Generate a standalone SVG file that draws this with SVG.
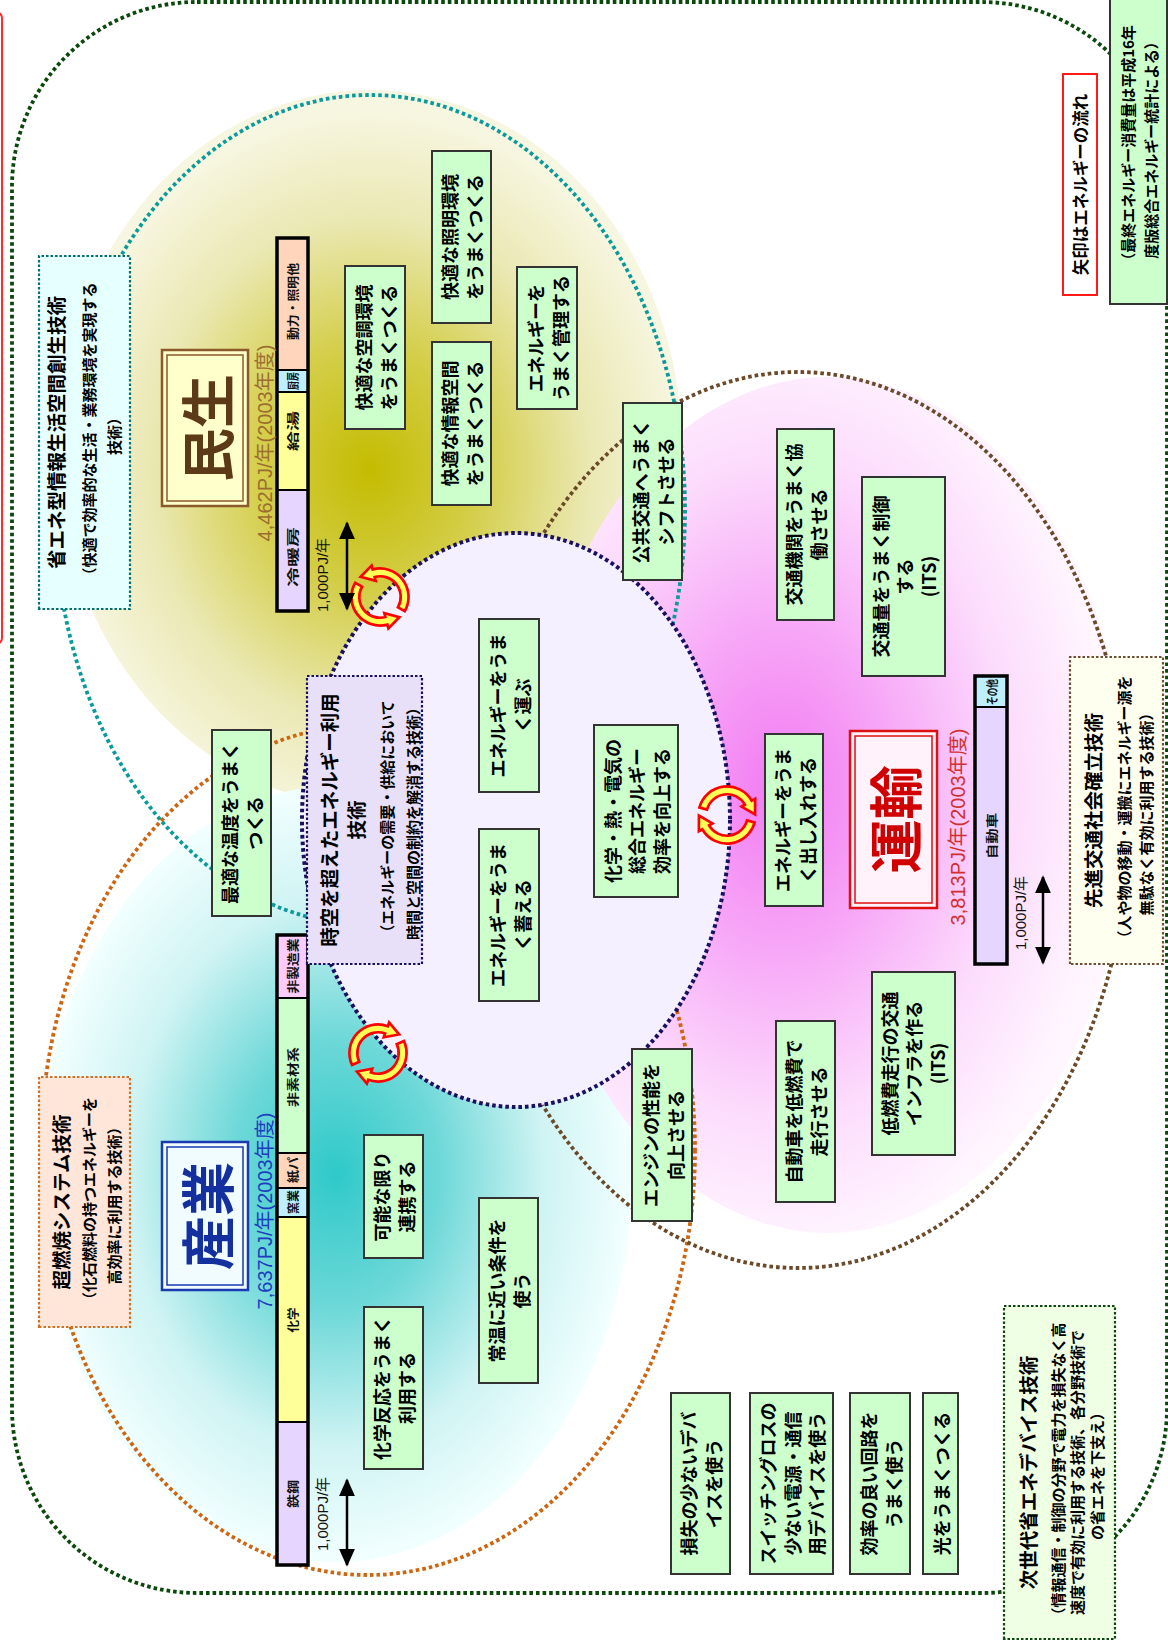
<svg xmlns="http://www.w3.org/2000/svg" width="1168" height="1641" viewBox="0 0 1168 1641">
<defs>
<style>
text{text-anchor:middle;dominant-baseline:central}
tspan{dominant-baseline:central}
.jp{font-family:"Noto Sans CJK JP","Noto Sans",sans-serif;font-weight:700}
.b18{font-size:18px}
.ttl{font-size:19.5px}
.sub{font-size:15px}
.gb{fill:#CCFFCC;stroke:#333;stroke-width:2}
.dot{fill:none;stroke-width:3.8;stroke-dasharray:3.6 3}
.cb{stroke-width:2.2;stroke-dasharray:2.5 2}
.bl{font-family:"Noto Sans CJK JP",sans-serif;font-weight:700;font-size:12px;fill:#111}
.stat{font-family:"Liberation Sans","Noto Sans CJK JP",sans-serif;font-size:20px}
.sc{font-family:"Liberation Sans","Noto Sans CJK JP",sans-serif;font-size:15px;fill:#111}
.carc{fill:#FFFF55;stroke:#FF0000;stroke-width:2.4}
</style>
<radialGradient id="gMinsei" cx="0.5" cy="0.53" r="0.5">
<stop offset="0" stop-color="#C4BC00"/>
<stop offset="0.35" stop-color="#D4CE4A"/>
<stop offset="0.7" stop-color="#EAE8B2"/>
<stop offset="1" stop-color="#F7F6E0"/>
</radialGradient>
<radialGradient id="gSangyo" cx="0.5" cy="0.5" r="0.5">
<stop offset="0" stop-color="#2FC9C9"/>
<stop offset="0.35" stop-color="#6ED8D8"/>
<stop offset="0.7" stop-color="#CFF3F3"/>
<stop offset="1" stop-color="#F2FFFF"/>
</radialGradient>
<radialGradient id="gUnyu" cx="0.42" cy="0.48" r="0.55">
<stop offset="0" stop-color="#F27AF2"/>
<stop offset="0.35" stop-color="#F7A8F7"/>
<stop offset="0.7" stop-color="#FCDCFC"/>
<stop offset="1" stop-color="#FFF6FF"/>
</radialGradient>
<marker id="ah" viewBox="0 0 10 10" refX="9" refY="5" markerWidth="18" markerHeight="16" markerUnits="userSpaceOnUse" orient="auto-start-reverse" preserveAspectRatio="none">
<path d="M0 0L10 5L0 10Z" fill="#000"/>
</marker>
<path id="carc" d="M -24.63 -6.60 A 25.5 25.5 0 0 1 22.08 -12.75 L 25.11 -14.5 L 25.05 -0.6 L 12.99 -7.5 L 16.02 -9.25 A 18.5 18.5 0 0 0 -17.87 -4.79 Z"/>
</defs>

<rect width="1168" height="1641" fill="#FFFFFF"/>

<g id="frame">
<rect x="-30" y="12" width="32" height="632" rx="6" fill="none" stroke="#FF2A2A" stroke-width="2"/>
<rect x="12" y="2" width="1155" height="1591" rx="185" fill="#FFFF99" stroke="#0B480B" class="dot"/>
</g>

<g id="regions">
<ellipse cx="370" cy="448" rx="312" ry="358" fill="url(#gMinsei)"/>
<ellipse cx="336" cy="1174" rx="296" ry="388" fill="url(#gSangyo)"/>
<ellipse cx="828" cy="805" rx="300" ry="428" fill="url(#gUnyu)"/>
<ellipse cx="370" cy="510" rx="315" ry="415" class="dot" stroke="#0A9A9A"/>
<ellipse cx="368" cy="1150" rx="327" ry="425" class="dot" stroke="#CC6611"/>
<ellipse cx="798" cy="820" rx="331" ry="448" class="dot" stroke="#6B4A2A"/>
<ellipse cx="516" cy="820" rx="214" ry="287" fill="#F4F0FF" stroke="#1A1060" stroke-width="4" stroke-dasharray="3.6 3"/>
</g>

<g id="connectors">
<g transform="translate(380,597) rotate(-135) scale(1.12,-1.12)"><use href="#carc" class="carc"/><use href="#carc" class="carc" transform="rotate(180)"/></g>
<g transform="translate(378,1053) rotate(-40) scale(1.12)"><use href="#carc" class="carc"/><use href="#carc" class="carc" transform="rotate(180)"/></g>
<g transform="translate(727,815) scale(1.12)"><use href="#carc" class="carc"/><use href="#carc" class="carc" transform="rotate(180)"/></g>
<line x1="347" y1="523" x2="347" y2="609" stroke="#000" stroke-width="2.5" marker-start="url(#ah)" marker-end="url(#ah)"/>
<line x1="347" y1="1480" x2="347" y2="1565" stroke="#000" stroke-width="2.5" marker-start="url(#ah)" marker-end="url(#ah)"/>
<line x1="1043" y1="877" x2="1043" y2="963" stroke="#000" stroke-width="2.5" marker-start="url(#ah)" marker-end="url(#ah)"/>
<text class="sc" transform="translate(322,575) rotate(-90)">1,000PJ/年</text>
<text class="sc" transform="translate(322,1514) rotate(-90)">1,000PJ/年</text>
<text class="sc" transform="translate(1020,913) rotate(-90)">1,000PJ/年</text>
</g>

<g id="bar-minsei">
<rect x="277" y="238" width="31" height="132" fill="#FFD6BC"/>
<rect x="277" y="370" width="31" height="22" fill="#BDEFFF"/>
<rect x="277" y="392" width="31" height="98" fill="#FFFF99"/>
<rect x="277" y="490" width="31" height="121" fill="#E6D6FF"/>
<path d="M277 370H308M277 392H308M277 490H308" stroke="#000" stroke-width="2"/>
<rect x="277" y="238" width="31" height="373" fill="none" stroke="#000" stroke-width="3.5"/>
<text class="bl" transform="translate(292.5,301.5) rotate(-90)" textLength="77" lengthAdjust="spacingAndGlyphs">動力・照明他</text>
<text class="bl" transform="translate(292.5,381) rotate(-90)" textLength="18" lengthAdjust="spacingAndGlyphs">厨房</text>
<text class="bl" transform="translate(292.5,431) rotate(-90)" textLength="40" lengthAdjust="spacingAndGlyphs">給湯</text>
<text class="bl" transform="translate(292.5,557) rotate(-90)" textLength="60" lengthAdjust="spacingAndGlyphs">冷暖房</text>
</g>

<g id="bar-sangyo">
<rect x="277" y="935" width="31" height="63" fill="#FCCCFC"/>
<rect x="277" y="998" width="31" height="155" fill="#CCFFCC"/>
<rect x="277" y="1153" width="31" height="35" fill="#FFD6BC"/>
<rect x="277" y="1188" width="31" height="29" fill="#BDEFFF"/>
<rect x="277" y="1217" width="31" height="205" fill="#FFFF99"/>
<rect x="277" y="1422" width="31" height="143" fill="#E6D6FF"/>
<path d="M277 998H308M277 1153H308M277 1188H308M277 1217H308M277 1422H308" stroke="#000" stroke-width="2"/>
<rect x="277" y="935" width="31" height="630" fill="none" stroke="#000" stroke-width="3.5"/>
<text class="bl" transform="translate(292.5,966) rotate(-90)" textLength="55" lengthAdjust="spacingAndGlyphs">非製造業</text>
<text class="bl" transform="translate(292.5,1077) rotate(-90)" textLength="60" lengthAdjust="spacingAndGlyphs">非素材系</text>
<text class="bl" transform="translate(292.5,1170) rotate(-90)" textLength="26" lengthAdjust="spacingAndGlyphs">紙パ</text>
<text class="bl" transform="translate(292.5,1202) rotate(-90)" textLength="24" lengthAdjust="spacingAndGlyphs">窯業</text>
<text class="bl" transform="translate(292.5,1320) rotate(-90)" textLength="25" lengthAdjust="spacingAndGlyphs">化学</text>
<text class="bl" transform="translate(292.5,1494) rotate(-90)" textLength="28" lengthAdjust="spacingAndGlyphs">鉄鋼</text>
</g>

<g id="bar-unyu">
<rect x="975" y="676" width="32" height="31" fill="#BDEFFF"/>
<rect x="975" y="707" width="32" height="257" fill="#E6D6FF"/>
<path d="M975 707H1007" stroke="#000" stroke-width="2"/>
<rect x="975" y="676" width="32" height="288" fill="none" stroke="#000" stroke-width="3.5"/>
<text class="bl" transform="translate(991,692) rotate(-90)" textLength="26" lengthAdjust="spacingAndGlyphs">その他</text>
<text class="bl" transform="translate(991,836) rotate(-90)" textLength="46" lengthAdjust="spacingAndGlyphs">自動車</text>
</g>

<g id="stats">
<text class="stat" transform="translate(265,443) rotate(-90)" fill="#9C6D30">4,462PJ/年(2003年度)</text>
<text class="stat" transform="translate(265,1211) rotate(-90)" fill="#1E3CC0">7,637PJ/年(2003年度)</text>
<text class="stat" transform="translate(958,827) rotate(-90)" fill="#D03030">3,813PJ/年(2003年度)</text>
</g>

<g id="n-minsei" transform="translate(205,428) rotate(-90)">
<rect x="-78" y="-43" width="156" height="86" fill="#FFFFCC" stroke="#8B5A2B" stroke-width="2.5"/>
<rect x="-73" y="-38" width="146" height="76" fill="none" stroke="#8B5A2B" stroke-width="1.5"/>
<text class="jp" font-size="54" fill="#5C3A17">民生</text>
</g>
<g id="n-sangyo" transform="translate(205,1216) rotate(-90)">
<rect x="-74" y="-43" width="148" height="86" fill="#F0FCFF" stroke="#1A3AB0" stroke-width="2.5"/>
<rect x="-69" y="-38" width="138" height="76" fill="none" stroke="#1A3AB0" stroke-width="1.5"/>
<text class="jp" font-size="54" fill="#14309F">産業</text>
</g>
<g id="n-unyu" transform="translate(893.5,819.5) rotate(-90)">
<rect x="-88.5" y="-43.5" width="177" height="87" fill="#FFF2FA" stroke="#DD1010" stroke-width="2.5"/>
<rect x="-83.5" y="-38.5" width="167" height="77" fill="none" stroke="#DD1010" stroke-width="1.5"/>
<text class="jp" font-size="54" fill="#D00000">運輸</text>
</g>

<g id="n-seikatsu" transform="translate(84.5,432.5) rotate(-90)">
<rect x="-176.5" y="-45.5" width="353" height="91" fill="#E6FFFF" stroke="#007070" class="cb"/>
<text class="jp"><tspan class="ttl" x="0" y="-29.5">省エネ型情報生活空間創生技術</tspan><tspan class="sub" x="0" y="3.5">（快適で効率的な生活・業務環境を実現する</tspan><tspan class="sub" x="0" y="28.5">技術）</tspan></text>
</g>
<g id="n-chonensho" transform="translate(84.5,1202) rotate(-90)">
<rect x="-125" y="-45.5" width="250" height="91" fill="#FFE6D8" stroke="#D07020" class="cb"/>
<text class="jp"><tspan class="ttl" x="0" y="-24.5">超燃焼システム技術</tspan><tspan class="sub" x="0" y="3.5">（化石燃料の持つエネルギーを</tspan><tspan class="sub" x="0" y="28.5">高効率に利用する技術）</tspan></text>
</g>
<g id="n-kotsu" transform="translate(1116.5,810.5) rotate(-90)">
<rect x="-153.5" y="-46.5" width="307" height="93" fill="#FFFFF0" stroke="#705030" class="cb"/>
<text class="jp"><tspan class="ttl" x="0" y="-24.5">先進交通社会確立技術</tspan><tspan class="sub" x="0" y="6.5">（人や物の移動・運搬にエネルギー源を</tspan><tspan class="sub" x="0" y="28.5">無駄なく有効に利用する技術）</tspan></text>
</g>
<g id="n-device" transform="translate(1059.5,1472.5) rotate(-90)">
<rect x="-166.5" y="-55.5" width="333" height="111" fill="#EEFFE4" stroke="#0B480B" class="cb"/>
<text class="jp"><tspan class="ttl" x="0" y="-32.5">次世代省エネデバイス技術</tspan><tspan class="sub" x="0" y="-2.5">（情報通信・制御の分野で電力を損失なく高</tspan><tspan class="sub" x="0" y="16.5">速度で有効に利用する技術、各分野技術で</tspan><tspan class="sub" x="0" y="36.5">の省エネを下支え）</tspan></text>
</g>
<g id="n-jikuu" transform="translate(364.5,820) rotate(-90)">
<rect x="-144" y="-57.5" width="288" height="115" fill="#E8E0F8" stroke="#1A1060" class="cb"/>
<text class="jp"><tspan class="ttl" x="0" y="-36.5">時空を超えたエネルギー利用</tspan><tspan class="ttl" x="0" y="-9.5">技術</tspan><tspan class="sub" x="0" y="21.5">（エネルギーの需要・供給において</tspan><tspan class="sub" x="0" y="47.5">時間と空間の制約を解消する技術）</tspan></text>
</g>
<g id="n-note-arrow" transform="translate(1080,184.5) rotate(-90)">
<rect x="-110.5" y="-17" width="221" height="34" fill="none" stroke="#FF1A1A" stroke-width="2"/>
<text class="jp" font-size="16.5">矢印はエネルギーの流れ</text>
</g>
<g id="n-note-source" transform="translate(1138.5,149.5) rotate(-90)">
<rect x="-154.5" y="-28.5" width="309" height="57" class="gb"/>
<text class="jp sub"><tspan x="3" y="-11.5">（最終エネルギー消費量は平成16年</tspan><tspan x="3" y="11.5">度版総合エネルギー統計による）</tspan></text>
</g>

<g id="n-kucho" transform="translate(375,347.5) rotate(-90)"><rect class="gb" x="-81.5" y="-30" width="163" height="60"/><text class="jp b18"><tspan x="0" y="-12.5">快適な空調環境</tspan><tspan x="0" y="12.5">をうまくつくる</tspan></text></g>
<g id="n-shomei" transform="translate(461.5,237) rotate(-90)"><rect class="gb" x="-86" y="-29.5" width="172" height="59"/><text class="jp b18"><tspan x="0" y="-12.5">快適な照明環境</tspan><tspan x="0" y="12.5">をうまくつくる</tspan></text></g>
<g id="n-joho" transform="translate(461.5,423.5) rotate(-90)"><rect class="gb" x="-81.5" y="-29.5" width="163" height="59"/><text class="jp b18"><tspan x="0" y="-12.5">快適な情報空間</tspan><tspan x="0" y="12.5">をうまくつくる</tspan></text></g>
<g id="n-kanri" transform="translate(547,338) rotate(-90)"><rect class="gb" x="-71" y="-30" width="142" height="60"/><text class="jp b18"><tspan x="0" y="-12.5">エネルギーを</tspan><tspan x="0" y="12.5">うまく管理する</tspan></text></g>
<g id="n-koukyo" transform="translate(652.5,491.5) rotate(-90)"><rect class="gb" x="-88.5" y="-29.5" width="177" height="59"/><text class="jp b18"><tspan x="0" y="-12.5">公共交通へうまく</tspan><tspan x="0" y="12.5">シフトさせる</tspan></text></g>
<g id="n-kyodo" transform="translate(805.5,524.5) rotate(-90)"><rect class="gb" x="-95.5" y="-28.5" width="191" height="57"/><text class="jp b18"><tspan x="0" y="-12.5">交通機関をうまく協</tspan><tspan x="0" y="12.5">働させる</tspan></text></g>
<g id="n-its1" transform="translate(903.5,576.5) rotate(-90)"><rect class="gb" x="-99.5" y="-41.5" width="199" height="83"/><text class="jp b18"><tspan x="0" y="-24">交通量をうまく制御</tspan><tspan x="0" y="0">する</tspan><tspan x="0" y="24">(ITS)</tspan></text></g>
<g id="n-ondo" transform="translate(241.5,823) rotate(-90)"><rect class="gb" x="-93" y="-29.5" width="186" height="59"/><text class="jp b18"><tspan x="0" y="-12.5">最適な温度をうまく</tspan><tspan x="0" y="12.5">つくる</tspan></text></g>
<g id="n-hakobu" transform="translate(509,705.5) rotate(-90)"><rect class="gb" x="-86.5" y="-30" width="173" height="60"/><text class="jp b18"><tspan x="0" y="-12.5">エネルギーをうま</tspan><tspan x="0" y="12.5">く運ぶ</tspan></text></g>
<g id="n-takuwaeru" transform="translate(509,915) rotate(-90)"><rect class="gb" x="-86" y="-30" width="172" height="60"/><text class="jp b18"><tspan x="0" y="-12.5">エネルギーをうま</tspan><tspan x="0" y="12.5">く蓄える</tspan></text></g>
<g id="n-sogo" transform="translate(636,811) rotate(-90)"><rect class="gb" x="-86" y="-42" width="172" height="84"/><text class="jp b18"><tspan x="0" y="-24.5">化学・熱・電気の</tspan><tspan x="0" y="0">総合エネルギー</tspan><tspan x="0" y="24.5">効率を向上する</tspan></text></g>
<g id="n-deire" transform="translate(794,820) rotate(-90)"><rect class="gb" x="-86" y="-29" width="172" height="58"/><text class="jp b18"><tspan x="0" y="-12.5">エネルギーをうま</tspan><tspan x="0" y="12.5">く出し入れする</tspan></text></g>
<g id="n-engine" transform="translate(662,1135) rotate(-90)"><rect class="gb" x="-86" y="-30" width="172" height="60"/><text class="jp b18"><tspan x="0" y="-12.5">エンジンの性能を</tspan><tspan x="0" y="12.5">向上させる</tspan></text></g>
<g id="n-teinenpi" transform="translate(805.5,1111.5) rotate(-90)"><rect class="gb" x="-90.5" y="-29.5" width="181" height="59"/><text class="jp b18"><tspan x="0" y="-12.5">自動車を低燃費で</tspan><tspan x="0" y="12.5">走行させる</tspan></text></g>
<g id="n-its2" transform="translate(913.5,1063.5) rotate(-90)"><rect class="gb" x="-91.5" y="-41.5" width="183" height="83"/><text class="jp b18"><tspan x="0" y="-25">低燃費走行の交通</tspan><tspan x="0" y="-0.5">インフラを作る</tspan><tspan x="0" y="23.5">(ITS)</tspan></text></g>
<g id="n-renkei" transform="translate(393.5,1196.5) rotate(-90)"><rect class="gb" x="-61.5" y="-29.5" width="123" height="59"/><text class="jp b18"><tspan x="0" y="-12.5">可能な限り</tspan><tspan x="0" y="12.5">連携する</tspan></text></g>
<g id="n-hanno" transform="translate(393.5,1388) rotate(-90)"><rect class="gb" x="-81" y="-29.5" width="162" height="59"/><text class="jp b18"><tspan x="0" y="-12.5">化学反応をうまく</tspan><tspan x="0" y="12.5">利用する</tspan></text></g>
<g id="n-jouon" transform="translate(508.5,1290.5) rotate(-90)"><rect class="gb" x="-92.5" y="-29.5" width="185" height="59"/><text class="jp b18"><tspan x="0" y="-12.5">常温に近い条件を</tspan><tspan x="0" y="12.5">使う</tspan></text></g>
<g id="n-sonshitsu" transform="translate(700.5,1483.5) rotate(-90)"><rect class="gb" x="-90.5" y="-29.5" width="181" height="59"/><text class="jp b18"><tspan x="0" y="-12.5">損失の少ないデバ</tspan><tspan x="0" y="12.5">イスを使う</tspan></text></g>
<g id="n-switching" transform="translate(791.5,1483.5) rotate(-90)"><rect class="gb" x="-90.5" y="-41.5" width="181" height="83"/><text class="jp b18"><tspan x="0" y="-24.5">スイッチングロスの</tspan><tspan x="0" y="0">少ない電源・通信</tspan><tspan x="0" y="24.5">用デバイスを使う</tspan></text></g>
<g id="n-kairo" transform="translate(880,1483.5) rotate(-90)"><rect class="gb" x="-90.5" y="-30" width="181" height="60"/><text class="jp b18"><tspan x="0" y="-12.5">効率の良い回路を</tspan><tspan x="0" y="12.5">うまく使う</tspan></text></g>
<g id="n-hikari" transform="translate(940.5,1483.5) rotate(-90)"><rect class="gb" x="-90.5" y="-17.5" width="181" height="35"/><text class="jp b18">光をうまくつくる</text></g>
</svg>
